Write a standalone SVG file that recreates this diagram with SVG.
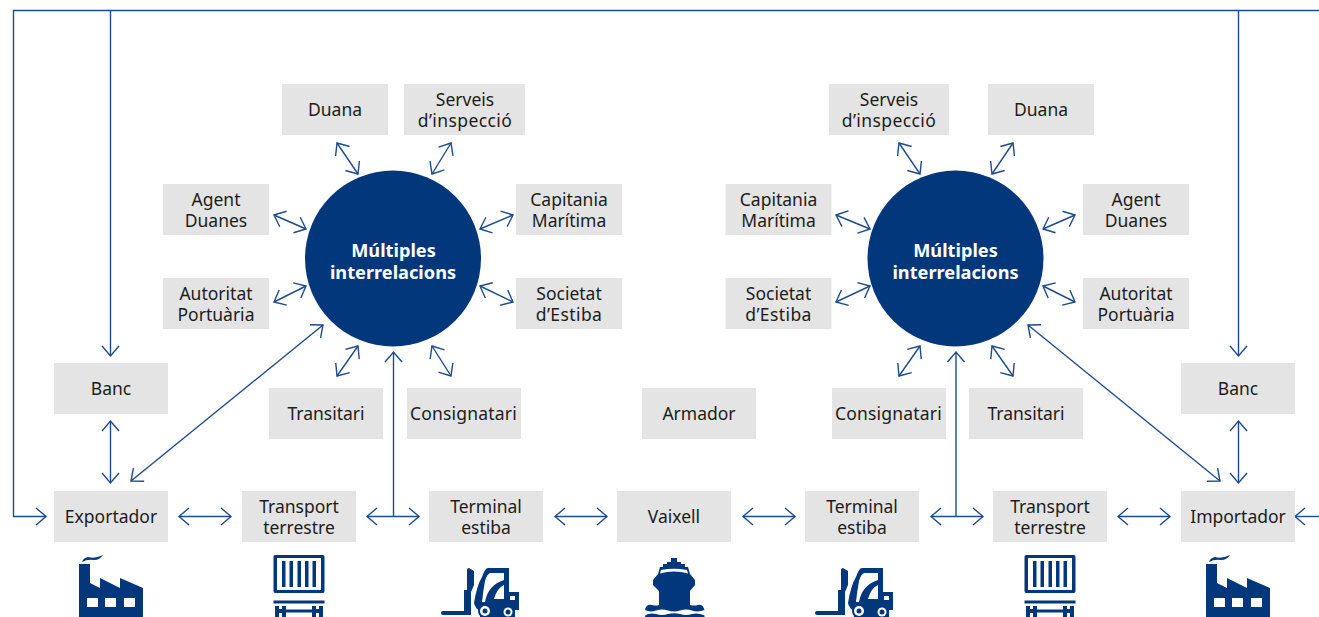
<svg xmlns="http://www.w3.org/2000/svg" width="1319" height="617" viewBox="0 0 1319 617">
<style>
.box{fill:#e3e4e3}
.t{font-family:"Noto Sans","Open Sans",sans-serif;font-size:17.5px;fill:#1d1d1b;text-anchor:middle}
.s{letter-spacing:.4px}
.k{letter-spacing:.2px}
.h{font-family:"Noto Sans","Open Sans",sans-serif;font-size:18.2px;font-weight:700;fill:#fff;text-anchor:middle}
.c{fill:none;stroke:#1f4a8c;stroke-width:1.4}
.i{fill:#03377b}
.w{fill:#fff}
</style>
<defs>
<marker id="a" markerUnits="userSpaceOnUse" markerWidth="14" markerHeight="20" refX="11" refY="9" orient="auto-start-reverse" viewBox="0 0 14 18"><path d="M1 0.5L11 9L1 17.5" fill="none" stroke="#1f4a8c" stroke-width="1.4"/></marker>
<g id="factory"><path class="i" d="M79 617V564H90V583L100 588V578L120 588V578L143 588V617Z"/><path class="i" d="M82 562Q83 558 88 557Q95 559 103 555Q100 560 94 560Q87 559 82 562Z"/><rect class="w" x="87" y="598" width="11" height="9"/><rect class="w" x="105" y="598" width="11" height="9"/><rect class="w" x="124" y="598" width="11" height="9"/></g>
<g id="container"><path class="i" fill-rule="evenodd" d="M275 555H323Q324.500 555 324.500 557V591Q324.500 593 323 593H275Q273.500 593 273.500 591V557Q273.500 555 275 555ZM277 558V590H321V558Z"/><rect class="i" x="282" y="561" width="3.500" height="26"/><rect class="i" x="289.500" y="561" width="3.500" height="26"/><rect class="i" x="297.500" y="561" width="3.500" height="26"/><rect class="i" x="305" y="561" width="3.500" height="26"/><rect class="i" x="312.500" y="561" width="3.500" height="26"/><rect class="i" x="273.500" y="600.500" width="51" height="3"/><path class="i" d="M275 606H279V609H282V606H286V609.500H312V606H316V609H319V606H323V617H319V613H316V617H312V612.500H286V617H282V613H279V617H275Z"/></g>
<g id="forklift"><path class="i" d="M441 613Q441 611 443 611H464V590H467V570Q467 568 469 568L474 571V585L471 592V615H443Q441 615 441 613Z"/><path class="i" fill-rule="evenodd" d="M488 568H509V592H519V610H515V617H480V611Q475 608 474 603Q477 585 482 577Q485 568 488 568ZM490 573Q487 574 485 581Q483 592 482 602H485Q488 585 504 580V573ZM494 599H504V585Q497 588 494 599ZM510 596V600H515V596Z"/><circle class="i" cx="485" cy="611" r="7"/><circle class="w" cx="485" cy="611" r="5"/><circle class="i" cx="485" cy="611" r="2.500"/><circle class="w" cx="508" cy="612" r="4.500"/><circle class="i" cx="508" cy="612" r="2.500"/></g>
<g id="ship"><path class="i" d="M671 558H677V562H681V564H685V567H688L690 574L695 580V585L690 591V608H659V591L653 585V580L658 574L660 567H663V564H667V562H671Z"/><path class="w" d="M661 570Q674 567.500 687 570L688 573.500Q674 569.500 660 573.500Z"/><path class="i" d="M645 610Q646 604 652 605Q656 606 659 605H690Q694 606 698 605Q703 604 704.500 610Q698 612.500 692 610.500Q686 608.500 680 610.500Q674 612.500 668 610.500Q662 608.500 656 610.500Q650 612.500 645 610Z"/><path class="i" d="M645 617V615.500Q650 612.500 656 614Q662 616 668 614Q674 612.500 680 614Q686 616 692 614Q698 612.500 704.500 615.500V617Z"/></g>
</defs>
<g id="connectors">
<path class="c" d="M1319 10.500H13.500V516.500H46" marker-end="url(#a)"/>
<path class="c" d="M110.500 10.500V356" marker-end="url(#a)"/>
<path class="c" d="M1238.500 10.500V356" marker-end="url(#a)"/>
<path class="c" d="M1319 516.500H1295" marker-end="url(#a)"/>
<path class="c" d="M110.500 421V483" marker-start="url(#a)" marker-end="url(#a)"/>
<path class="c" d="M1238.500 421V483" marker-start="url(#a)" marker-end="url(#a)"/>
<path class="c" d="M179 516.500H231" marker-start="url(#a)" marker-end="url(#a)"/>
<path class="c" d="M367 516.500H419" marker-start="url(#a)" marker-end="url(#a)"/>
<path class="c" d="M555 516.500H607" marker-start="url(#a)" marker-end="url(#a)"/>
<path class="c" d="M743 516.500H795" marker-start="url(#a)" marker-end="url(#a)"/>
<path class="c" d="M931 516.500H983" marker-start="url(#a)" marker-end="url(#a)"/>
<path class="c" d="M1118 516.500H1170" marker-start="url(#a)" marker-end="url(#a)"/>
<path class="c" d="M131 481L323 325" marker-start="url(#a)" marker-end="url(#a)"/>
<path class="c" d="M1220 481L1028 325" marker-start="url(#a)" marker-end="url(#a)"/>
<path class="c" d="M337 143L358 174" marker-start="url(#a)" marker-end="url(#a)"/>
<path class="c" d="M451 143L432 174" marker-start="url(#a)" marker-end="url(#a)"/>
<path class="c" d="M274 215L306 229" marker-start="url(#a)" marker-end="url(#a)"/>
<path class="c" d="M513 215L480 229" marker-start="url(#a)" marker-end="url(#a)"/>
<path class="c" d="M274 302L306 286" marker-start="url(#a)" marker-end="url(#a)"/>
<path class="c" d="M513 302L480 286" marker-start="url(#a)" marker-end="url(#a)"/>
<path class="c" d="M337 376L358 346" marker-start="url(#a)" marker-end="url(#a)"/>
<path class="c" d="M451 376L432 346" marker-start="url(#a)" marker-end="url(#a)"/>
<path class="c" d="M899 143L920 174" marker-start="url(#a)" marker-end="url(#a)"/>
<path class="c" d="M1013 143L992 174" marker-start="url(#a)" marker-end="url(#a)"/>
<path class="c" d="M836 215L870 229" marker-start="url(#a)" marker-end="url(#a)"/>
<path class="c" d="M1075 215L1043 229" marker-start="url(#a)" marker-end="url(#a)"/>
<path class="c" d="M836 302L870 286" marker-start="url(#a)" marker-end="url(#a)"/>
<path class="c" d="M1075 302L1043 286" marker-start="url(#a)" marker-end="url(#a)"/>
<path class="c" d="M899 376L920 346" marker-start="url(#a)" marker-end="url(#a)"/>
<path class="c" d="M1013 376L992 346" marker-start="url(#a)" marker-end="url(#a)"/>
<path class="c" d="M393.500 352V516" marker-start="url(#a)"/>
<path class="c" d="M956 352V516" marker-start="url(#a)"/>
</g>
<g id="hub-left"><circle cx="393" cy="258.500" r="88" class="i"/><text class="h"><tspan x="393.500" y="257">Múltiples</tspan><tspan x="393" y="279">interrelacions</tspan></text></g>
<g id="hub-right"><circle cx="955.500" cy="258.500" r="88" class="i"/><text class="h"><tspan x="955.500" y="257">Múltiples</tspan><tspan x="955.500" y="279">interrelacions</tspan></text></g>
<g id="n1"><rect class="box" x="282" y="84" width="106" height="51"/><text class="t" x="335" y="116">Duana</text></g>
<g id="n2"><rect class="box" x="404" y="84" width="121" height="51"/><text class="t"><tspan x="465" y="106">Serveis</tspan><tspan class="s" x="465" y="127">d’inspecció</tspan></text></g>
<g id="n3"><rect class="box" x="163" y="184" width="106" height="51"/><text class="t"><tspan x="216" y="206">Agent</tspan><tspan x="216" y="227">Duanes</tspan></text></g>
<g id="n4"><rect class="box" x="516" y="184" width="106" height="51"/><text class="t"><tspan x="569" y="206">Capitania</tspan><tspan x="569" y="227">Marítima</tspan></text></g>
<g id="n5"><rect class="box" x="163" y="278" width="106" height="51"/><text class="t"><tspan x="216" y="300">Autoritat</tspan><tspan x="216" y="321">Portuària</tspan></text></g>
<g id="n6"><rect class="box" x="516" y="278" width="106" height="51"/><text class="t"><tspan x="569" y="300">Societat</tspan><tspan class="s" x="569" y="321">d’Estiba</tspan></text></g>
<g id="n7"><rect class="box" x="269" y="388" width="114" height="51"/><text class="t" x="326" y="420">Transitari</text></g>
<g id="n8"><rect class="box" x="407" y="388" width="114" height="51"/><text class="t k" x="463.500" y="420">Consignatari</text></g>
<g id="n9"><rect class="box" x="642" y="388" width="114" height="51"/><text class="t" x="699" y="420">Armador</text></g>
<g id="n10"><rect class="box" x="832" y="388" width="114" height="51"/><text class="t k" x="888.500" y="420">Consignatari</text></g>
<g id="n11"><rect class="box" x="969" y="388" width="114" height="51"/><text class="t" x="1026" y="420">Transitari</text></g>
<g id="n12"><rect class="box" x="829" y="84" width="120" height="51"/><text class="t"><tspan x="889" y="106">Serveis</tspan><tspan class="s" x="889" y="127">d’inspecció</tspan></text></g>
<g id="n13"><rect class="box" x="988" y="84" width="106" height="51"/><text class="t" x="1041" y="116">Duana</text></g>
<g id="n14"><rect class="box" x="725.500" y="184" width="106" height="51"/><text class="t"><tspan x="778.500" y="206">Capitania</tspan><tspan x="778.500" y="227">Marítima</tspan></text></g>
<g id="n15"><rect class="box" x="1083" y="184" width="106" height="51"/><text class="t"><tspan x="1136" y="206">Agent</tspan><tspan x="1136" y="227">Duanes</tspan></text></g>
<g id="n16"><rect class="box" x="725.500" y="278" width="106" height="51"/><text class="t"><tspan x="778.500" y="300">Societat</tspan><tspan class="s" x="778.500" y="321">d’Estiba</tspan></text></g>
<g id="n17"><rect class="box" x="1083" y="278" width="106" height="51"/><text class="t"><tspan x="1136" y="300">Autoritat</tspan><tspan x="1136" y="321">Portuària</tspan></text></g>
<g id="n18"><rect class="box" x="54" y="363" width="114" height="51"/><text class="t" x="111" y="395">Banc</text></g>
<g id="n19"><rect class="box" x="1181" y="363" width="114" height="51"/><text class="t" x="1238" y="395">Banc</text></g>
<g id="n20"><rect class="box" x="54" y="491" width="114" height="51"/><text class="t" x="111" y="523">Exportador</text></g>
<g id="n21"><rect class="box" x="242" y="491" width="114" height="51"/><text class="t"><tspan x="299" y="513">Transport</tspan><tspan x="299" y="534">terrestre</tspan></text></g>
<g id="n22"><rect class="box" x="429" y="491" width="114" height="51"/><text class="t"><tspan x="486" y="513">Terminal</tspan><tspan x="486" y="534">estiba</tspan></text></g>
<g id="n23"><rect class="box" x="617" y="491" width="114" height="51"/><text class="t" x="674" y="523">Vaixell</text></g>
<g id="n24"><rect class="box" x="805" y="491" width="114" height="51"/><text class="t"><tspan x="862" y="513">Terminal</tspan><tspan x="862" y="534">estiba</tspan></text></g>
<g id="n25"><rect class="box" x="993" y="491" width="114" height="51"/><text class="t"><tspan x="1050" y="513">Transport</tspan><tspan x="1050" y="534">terrestre</tspan></text></g>
<g id="n26"><rect class="box" x="1181" y="491" width="114" height="51"/><text class="t" x="1238" y="523">Importador</text></g>
<g id="icons">
<use href="#factory"/>
<use href="#factory" x="1127"/>
<use href="#container"/>
<use href="#container" x="751"/>
<use href="#forklift"/>
<use href="#forklift" x="374"/>
<use href="#ship"/>
</g>
</svg>
